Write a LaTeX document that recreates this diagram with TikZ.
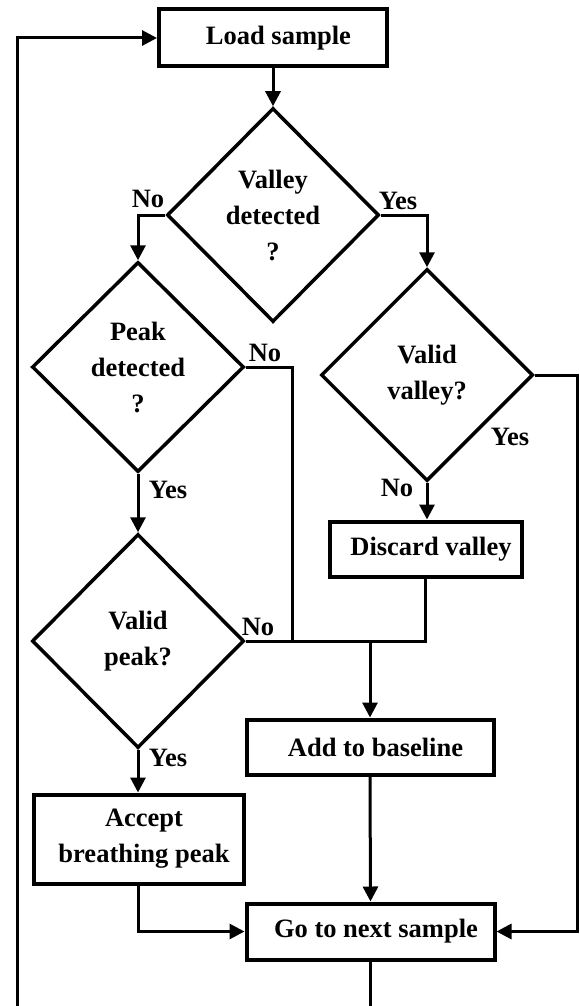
\documentclass[tikz,border=0pt]{standalone}
\usepackage{fontspec}
\setmainfont{Liberation Serif}
\usetikzlibrary{shapes.geometric,arrows.meta}
\newcommand{\shft}{\hspace*{11pt}}
\begin{document}
\begin{tikzpicture}[x=1pt,y=-1pt,
  every node/.style={font=\fontsize{26.5}{36}\selectfont\bfseries},
  box/.style={draw,line width=4pt,rectangle,inner sep=0pt,align=center},
  dia/.style={draw,line width=3.5pt,diamond,inner sep=0pt,align=center,minimum width=212pt,minimum height=212pt},
  lbl/.style={inner sep=0pt},
  conn/.style={line width=3pt},
  arr/.style={conn,-{Triangle[length=15pt,width=15pt]}}]
\useasboundingbox (0,0) rectangle (579,1006);
\clip (0,0) rectangle (579,1006);

\node[box,minimum width=228pt,minimum height=57pt] (load) at (273,38) {\shft Load sample};
\node[dia,minimum height=214pt] (valley) at (273,215) {Valley\\detected\\?};
\node[dia,minimum height=210pt] (peak) at (138,367) {Peak\\detected\\?};
\node[dia] (vvalley) at (427,375) {Valid\\valley?};
\node[dia,minimum height=214pt] (vpeak) at (138,641) {Valid\\peak?};
\node[box,minimum width=192pt,minimum height=55pt] (discard) at (425.5,549) {\shft Discard valley};
\node[box,minimum width=247pt,minimum height=55pt] (add) at (370,747) {\shft Add to baseline};
\node[box,minimum width=210pt,minimum height=89pt] (accept) at (138.5,839) {\shft Accept\\\shft breathing peak};
\node[box,minimum width=248pt,minimum height=56pt] (go) at (370.5,931.5) {\shft Go to next sample};

\node[lbl] (l1) at (148,199) {No};
\node[lbl] (l2) at (398,201) {Yes};
\node[lbl] (l3) at (265,353) {No};
\node[lbl] (l4) at (168,490) {Yes};
\node[lbl] (l5) at (510,437) {Yes};
\node[lbl] (l6) at (397,488) {No};
\node[lbl] (l7) at (258,627) {No};
\node[lbl] (l8) at (168,758) {Yes};

\coordinate (jn) at (370,641);
\coordinate (pj) at (292,641);
\coordinate (rc) at (577.5,931.5);
\coordinate (bl) at (17,1012);

\draw[arr] (load.south) -- (valley.north);
\draw[arr] (valley.west) -| (peak.north);
\draw[arr] (valley.east) -| (vvalley.north);
\draw[conn] (peak.east) -| (pj);
\draw[arr] (peak.south) -- (vpeak.north);
\draw[conn] (vpeak.east) -- (discard.south |- vpeak.east) -- (discard.south);
\draw[arr] (jn) -- (add.north);
\draw[arr] (vvalley.south) -- (vvalley.south |- discard.north);
\draw[arr] (vvalley.east) -| (rc) -- (go.east);
\draw[arr] (vpeak.south) -- (vpeak.south |- accept.north);
\draw[arr] (accept.south) |- (go.west);
\draw[arr] (add.south) -- (go.north);
\draw[arr] (go.south) |- (bl) |- (load.west);
\end{tikzpicture}
\end{document}
